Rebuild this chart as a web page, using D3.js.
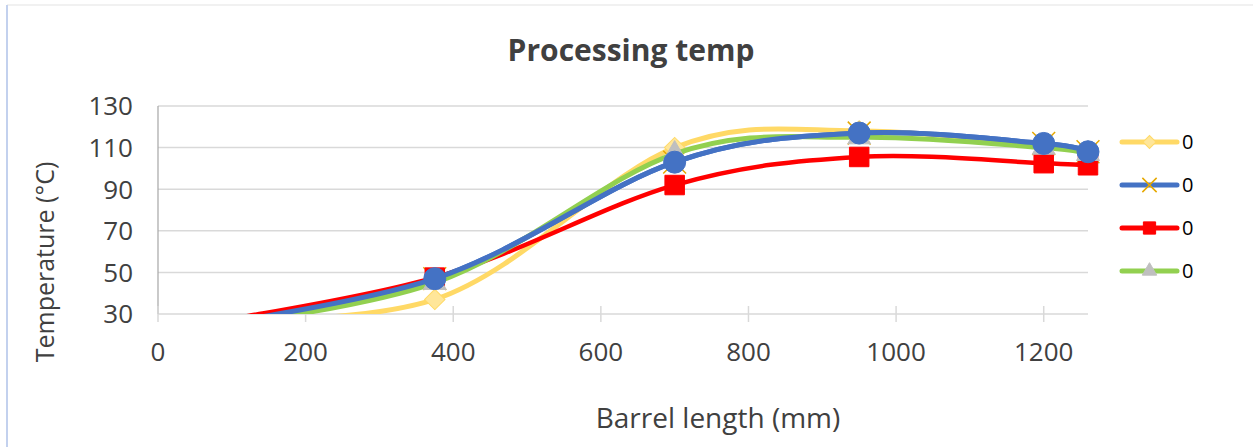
<!DOCTYPE html>
<html>
<head>
<meta charset="utf-8">
<script src="https://cdn.jsdelivr.net/npm/d3@7"></script>
<style>
  body { margin: 0; background: #fff; }
  svg { font-family: "Open Sans", sans-serif; }
</style>
</head>
<body>
<svg id="chart" width="1253" height="447"></svg>
<script>
// barrel positions (mm)
const positions = [0, 375, 700, 950, 1200, 1260];

// temperatures per series (°C)
const seriesYellow = [27.5, 37, 110, 118, 111, 107];
const seriesBlueX = [21, 47, 103, 117, 112, 108];
const seriesRed = [22, 47.5, 92, 105.5, 102.5, 101.5];
const seriesGreen = [20.5, 45, 107, 115, 110, 107];
const seriesBlueDot = [21, 47, 103, 117, 112, 108];

const legendLabels = ['0', '0', '0', '0'];
const xTicks = [0, 200, 400, 600, 800, 1000, 1200];
const yTicks = [30, 50, 70, 90, 110, 130];

const width = 1253;
const height = 447;
const plot = { left: 158, right: 1088, top: 106, bottom: 314 };

const svg = d3.select('#chart');

const x = d3.scaleLinear().domain([0, 1260]).range([plot.left, plot.right]);
const y = d3.scaleLinear().domain([30, 130]).range([plot.bottom, plot.top]);

// outer frame (only the top and left edges show)
svg.append('line').attr('x1', 7).attr('x2', width).attr('y1', 5).attr('y2', 5)
  .attr('stroke', '#ececec').attr('stroke-width', 1.5);
svg.append('line').attr('x1', 7).attr('x2', 7).attr('y1', 5).attr('y2', height)
  .attr('stroke', '#c3d1ee').attr('stroke-width', 2);

// title
svg.append('text')
  .attr('x', 631).attr('y', 61)
  .attr('text-anchor', 'middle')
  .attr('font-size', 30).attr('font-weight', 'bold')
  .attr('fill', '#404040')
  .text('Processing temp');

// gridlines
svg.append('g')
  .selectAll('line')
  .data(yTicks)
  .enter()
  .append('line')
  .attr('x1', plot.left).attr('x2', plot.right)
  .attr('y1', (d) => y(d)).attr('y2', (d) => y(d))
  .attr('stroke', '#d9d9d9').attr('stroke-width', 1.5);

// y axis line
svg.append('line')
  .attr('x1', plot.left).attr('x2', plot.left)
  .attr('y1', plot.top).attr('y2', plot.bottom)
  .attr('stroke', '#a6a6a6').attr('stroke-width', 1.2);

// x axis ticks (cross the axis line)
svg.append('g')
  .selectAll('line')
  .data(xTicks)
  .enter()
  .append('line')
  .attr('x1', (d) => x(d)).attr('x2', (d) => x(d))
  .attr('y1', plot.bottom - 8).attr('y2', plot.bottom + 8)
  .attr('stroke', '#d9d9d9').attr('stroke-width', 1.5);

// tick labels
svg.append('g')
  .selectAll('text')
  .data(yTicks)
  .enter()
  .append('text')
  .attr('x', 133).attr('y', (d) => y(d))
  .attr('dy', '0.36em')
  .attr('text-anchor', 'end')
  .attr('font-size', 26).attr('fill', '#404040')
  .text((d) => d);

svg.append('g')
  .selectAll('text')
  .data(xTicks)
  .enter()
  .append('text')
  .attr('x', (d) => x(d)).attr('y', 361)
  .attr('text-anchor', 'middle')
  .attr('font-size', 26).attr('fill', '#404040')
  .text((d) => d);

// axis titles
svg.append('text')
  .attr('transform', 'translate(45,262) rotate(-90)')
  .attr('text-anchor', 'middle')
  .attr('dy', '0.36em')
  .attr('font-size', 25).attr('fill', '#404040')
  .text('Temperature (°C)');

svg.append('text')
  .attr('x', 718).attr('y', 428)
  .attr('text-anchor', 'middle')
  .attr('font-size', 28).attr('fill', '#404040')
  .text('Barrel length (mm)');

// clip the curves at the bottom of the plot area
svg.append('defs').append('clipPath').attr('id', 'plotClip')
  .append('rect').attr('x', 0).attr('y', 0).attr('width', width).attr('height', plot.bottom);

const series = [
  { values: seriesYellow, color: '#ffd966', width: 5, marker: 'diamond', fill: '#ffe699', stroke: '#ffd966', legend: true },
  { values: seriesBlueX, color: '#4472c4', width: 5, marker: 'x', fill: 'none', stroke: '#e6a800', legend: true },
  { values: seriesRed, color: '#ff0000', width: 4.5, marker: 'square', fill: '#ff0000', stroke: '#ff0000', legend: true },
  { values: seriesGreen, color: '#92d050', width: 5, marker: 'triangle', fill: '#bfbfbf', stroke: '#bfbfbf', legend: true },
  { values: seriesBlueDot, color: '#4472c4', width: 5, marker: 'circle', fill: '#4472c4', stroke: '#4472c4', legend: false }
];

const line = d3.line()
  .x((d) => x(d[0]))
  .y((d) => y(d[1]))
  .curve(d3.curveCardinal.tension(0));

const symbolPath = (type, size) => {
  if (type === 'diamond') return d3.symbol().type(d3.symbolSquare).size(size * 0.55)();
  if (type === 'square') return d3.symbol().type(d3.symbolSquare).size(size)();
  if (type === 'triangle') return d3.symbol().type(d3.symbolTriangle).size(size * 0.6)();
  if (type === 'circle') return d3.symbol().type(d3.symbolCircle).size(size)();
  return d3.symbol().type(d3.symbolX).size(size * 0.9)();
};

const markerAttrs = (sel, s, size) => {
  sel.attr('d', symbolPath(s.marker, size))
    .attr('fill', s.fill)
    .attr('stroke', s.stroke)
    .attr('stroke-width', s.marker === 'x' ? 1.5 : 1);
};

series.forEach((s) => {
  const pts = positions.map((p, i) => [p, s.values[i]]);
  const g = svg.append('g');

  g.append('path')
    .attr('clip-path', 'url(#plotClip)')
    .attr('d', line(pts))
    .attr('fill', 'none')
    .attr('stroke', s.color)
    .attr('stroke-width', s.width)
    .attr('stroke-linecap', 'round');

  g.selectAll('.mk')
    .data(pts.filter((d) => d[1] >= 30))
    .enter()
    .append('path')
    .attr('class', 'mk')
    .attr('transform', (d) => `translate(${x(d[0])},${y(d[1])})` + (s.marker === 'diamond' ? ' rotate(45)' : ''))
    .call(markerAttrs, s, 380);
});

// legend
const legend = svg.append('g');
const legendItems = legend.selectAll('.lg')
  .data(series.filter((s) => s.legend))
  .enter()
  .append('g')
  .attr('class', 'lg')
  .attr('transform', (d, i) => `translate(1122,${142 + i * 43})`);

legendItems.append('line')
  .attr('x1', 0).attr('x2', 55)
  .attr('stroke', (d) => d.color)
  .attr('stroke-width', 5)
  .attr('stroke-linecap', 'round');

legendItems.append('path')
  .attr('transform', (d) => 'translate(27.5,0)' + (d.marker === 'diamond' ? ' rotate(45)' : ''))
  .each(function (d) { d3.select(this).call(markerAttrs, d, 150); });

legendItems.append('text')
  .attr('x', 60).attr('dy', '0.36em')
  .attr('font-size', 20).attr('fill', '#000')
  .text((d, i) => legendLabels[i]);
</script>
</body>
</html>
